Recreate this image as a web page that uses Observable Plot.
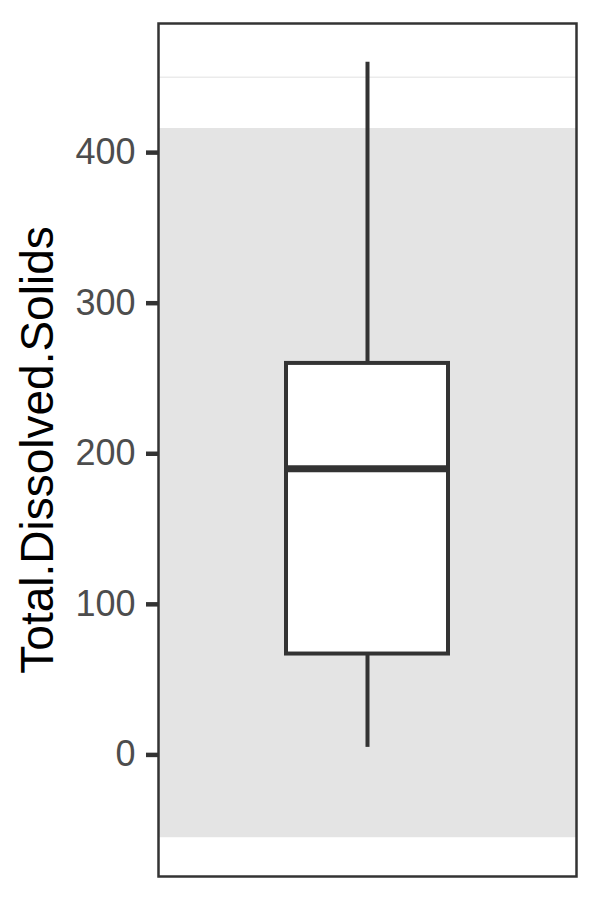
<!DOCTYPE html>
<html>
<head>
<meta charset="utf-8">
<script src="https://cdn.jsdelivr.net/npm/d3@7"></script>
<script src="https://cdn.jsdelivr.net/npm/@observablehq/plot@0.6"></script>
<style>
  html, body { margin: 0; padding: 0; background: #fff; }
  #chart svg { display: block; }
</style>
</head>
<body>
<div id="chart"></div>
<script>
// ---- data ----
const categories = ["Total.Dissolved.Solids"];
const whiskerLow = [5];
const q1 = [67];
const median = [190];
const q3 = [260];
const whiskerHigh = [460];
const bandLow = [-55];
const bandHigh = [416];
const yTicks = [0, 100, 200, 300, 400];
const gridTicks = [-50, 0, 50, 100, 150, 200, 250, 300, 350, 400, 450];
const yLabel = "Total.Dissolved.Solids";

const boxes = categories.map((c, i) => ({
  cat: c, lo: whiskerLow[i], q1: q1[i], med: median[i], q3: q3[i], hi: whiskerHigh[i]
}));
const bands = bandLow.map((b, i) => ({ y1: b, y2: bandHigh[i] }));

const yMin = Math.min(...bandLow, ...whiskerLow);
const yMax = Math.max(...bandHigh, ...whiskerHigh);
const pad = (yMax - yMin) * 0.05;

const font = "'Liberation Sans', Arial, Helvetica, sans-serif";
const dark = "#333333";

const chart = Plot.plot({
  width: 600,
  height: 900,
  marginLeft: 158,
  marginRight: 24,
  marginTop: 23,
  marginBottom: 24,
  style: { fontFamily: font, background: "#fff" },
  x: { type: "band", domain: categories, paddingInner: 0, paddingOuter: 0.79, axis: null },
  y: { domain: [yMin - pad, yMax + pad], axis: null },
  marks: [
    Plot.gridY(gridTicks, { stroke: "#ebebeb", strokeOpacity: 1, strokeWidth: 1.5 }),
    Plot.rectY(bands, { y1: "y1", y2: "y2", fill: "#e4e4e4" }),
    Plot.ruleX(boxes, { x: "cat", y1: "lo", y2: "q1", stroke: dark, strokeWidth: 4 }),
    Plot.ruleX(boxes, { x: "cat", y1: "q3", y2: "hi", stroke: dark, strokeWidth: 4 }),
    Plot.barY(boxes, { x: "cat", y1: "q1", y2: "q3", fill: "#fff", stroke: dark, strokeWidth: 4 }),
    Plot.tickY(boxes, { x: "cat", y: "med", stroke: dark, strokeWidth: 7 }),
    Plot.frame({ stroke: dark, strokeWidth: 2.5 }),
    Plot.axisY(yTicks, { text: null, tickSize: 12, stroke: dark, strokeWidth: 4.5 }),
    Plot.axisY(yTicks, { tickSize: 0, tickPadding: 23, fill: "#4d4d4d", fontSize: 36, label: null }),
    Plot.text([yLabel], { frameAnchor: "left", dx: -120, rotate: -90, fontSize: 46, fill: "#000", textAnchor: "middle", lineAnchor: "middle" })
  ]
});
document.getElementById("chart").appendChild(chart);
</script>
</body>
</html>
